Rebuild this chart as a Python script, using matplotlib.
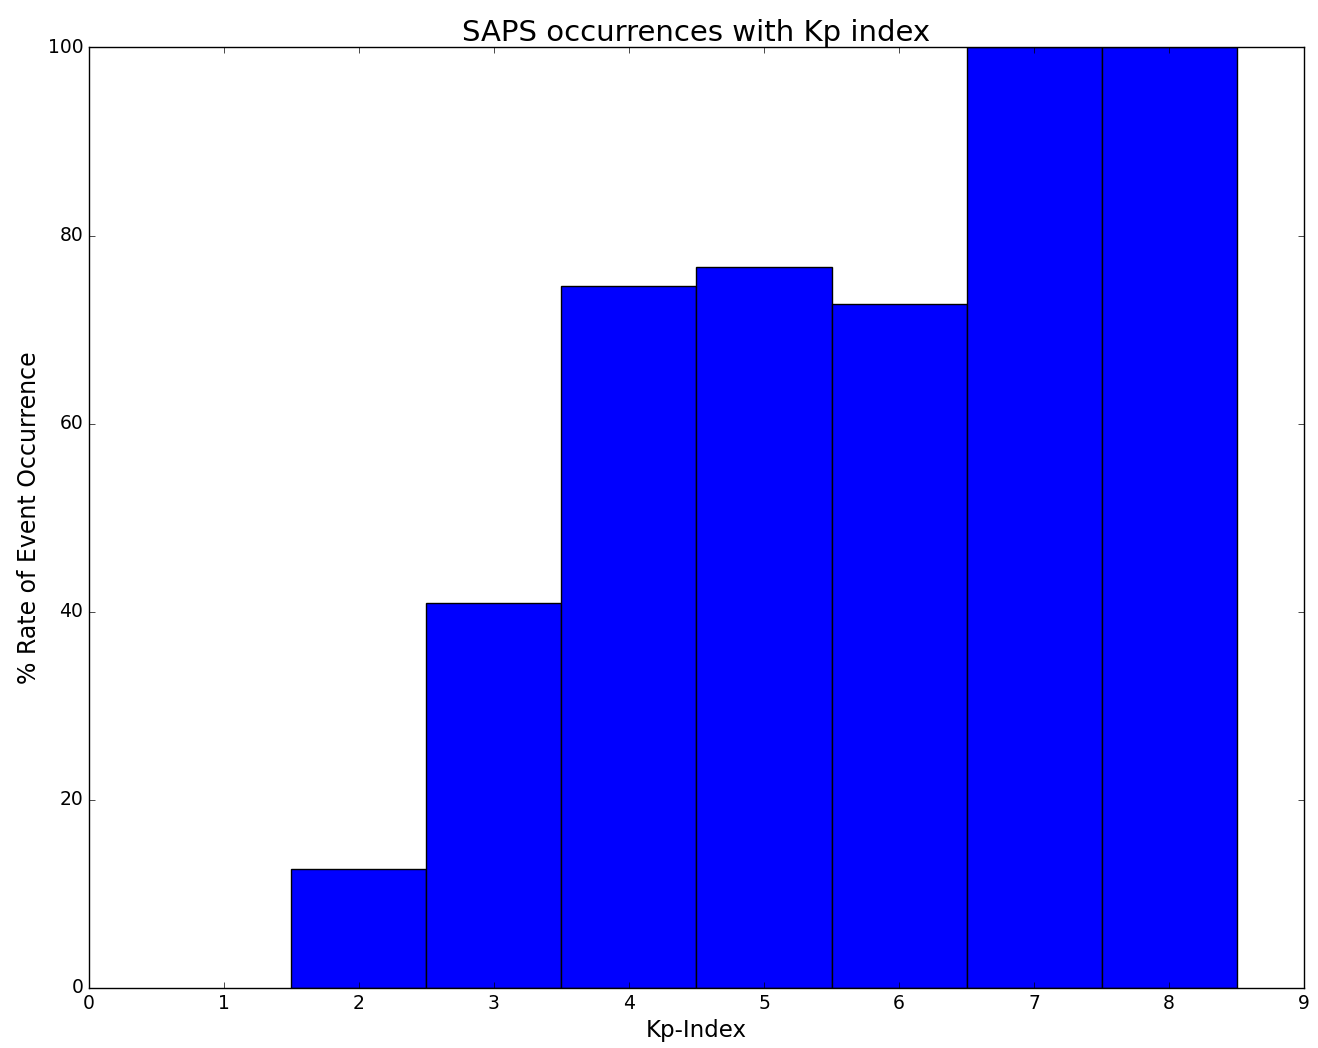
import matplotlib
matplotlib.use("Agg")
import matplotlib.pyplot as plt

# SAPS occurrence rate per Kp bin
kp = [2, 3, 4, 5, 6, 7, 8]
rate = [12.6, 40.9, 74.6, 76.7, 72.7, 100.0, 100.0]

plt.style.use('classic')
fig = plt.figure(figsize=(13.18, 10.48), dpi=100)
ax = fig.add_axes([0.0675, 0.0573, 0.9219, 0.8974])

ax.bar(kp, rate, width=1.0, align='center', color='b', edgecolor='k')

ax.set_xlim(0, 9)
ax.set_ylim(0, 100)
ax.set_xticks(range(0, 10))
ax.set_yticks(range(0, 101, 20))
ax.tick_params(labelsize=13.5)

ax.set_title('SAPS occurrences with Kp index', fontsize=21)
ax.set_xlabel('Kp-Index', fontsize=16.5)
ax.set_ylabel('% Rate of Event Occurrence', fontsize=17)

fig.savefig('out.png', dpi=100)
